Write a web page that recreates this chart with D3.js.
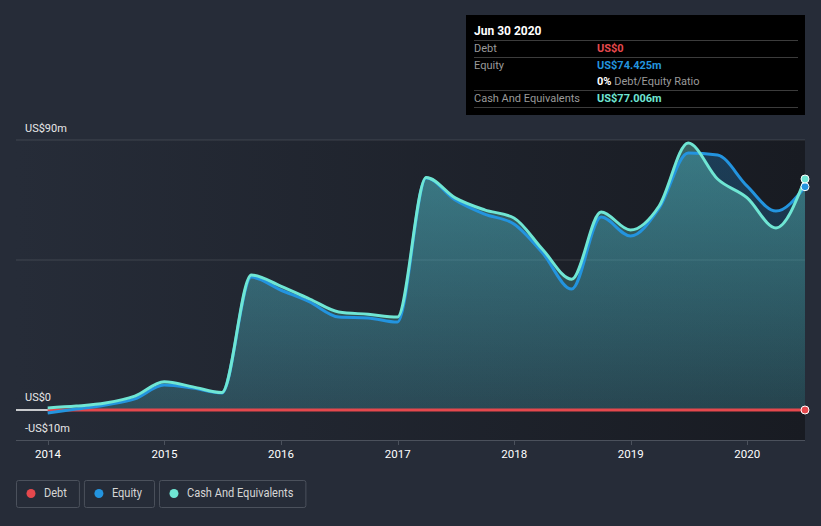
<!DOCTYPE html>
<html><head><meta charset="utf-8">
<script src="https://cdn.jsdelivr.net/npm/d3@7"></script>
<style>
html,body{margin:0;padding:0;background:#262c38;}
svg{display:block;font-family:Roboto,"Noto Sans",sans-serif;}
</style></head>
<body>
<svg id="c" width="821" height="526"></svg>
<script>
const dates = ["2013-12-31","2014-03-31","2014-06-30","2014-09-30","2014-12-31","2015-03-31","2015-06-30","2015-09-30","2015-12-31","2016-03-31","2016-06-30","2016-09-30","2016-12-31","2017-03-31","2017-06-30","2017-09-30","2017-12-31","2018-03-31","2018-06-30","2018-09-30","2018-12-31","2019-03-31","2019-06-30","2019-09-30","2019-12-31","2020-03-31","2020-06-30"];
const cash   = [0.7,1.3,2.3,4.6,9.4,7.7,5.8,45.0,41.3,37.0,32.7,31.9,31.0,77.5,70.7,66.7,64.0,53.5,43.6,66.0,60.0,68.0,89.0,77.0,70.8,60.7,77.006];
const equity = [-1.0,0.3,1.7,3.7,8.3,7.3,5.7,44.3,40.0,36.0,31.0,30.7,29.3,77.3,70.0,65.3,62.0,52.3,40.3,64.3,58.0,67.3,85.7,85.0,74.7,66.3,74.425];
const debt   = [0,0,0,0,0,0,0,0,0,0,0,0,0,0,0,0,0,0,0,0,0,0,0,0,0,0,0];
const yearTicks = [2014,2015,2016,2017,2018,2019,2020];
const yLabels = [{v:90,t:"US$90m"},{v:0,t:"US$0"},{v:-10,t:"-US$10m"}];
const gridVals = [90,50];
const legendItems = [{n:"Debt",c:"#e5484d"},{n:"Equity",c:"#2394df"},{n:"Cash And Equivalents",c:"#6fe6d4"}];

const COL = {debt:"#e5484d", equity:"#2394df", cash:"#6fe6d4"};
const parse = d3.timeParse("%Y-%m-%d");
const dd = dates.map(parse);
const svg = d3.select("#c");
const x = d3.scaleTime().domain([new Date(2014,0,1), new Date(2020,5,30)]).range([48,805]);
const y = d3.scaleLinear().domain([-10,90]).range([440,140]);

const defs = svg.append("defs");
const bgG = defs.append("linearGradient").attr("id","bg").attr("x1",0).attr("x2",1).attr("y1",0).attr("y2",0);
bgG.append("stop").attr("offset","0%").attr("stop-color","#262c38");
bgG.append("stop").attr("offset","100%").attr("stop-color","#181b22");
const gc = defs.append("linearGradient").attr("id","gc").attr("gradientUnits","userSpaceOnUse").attr("x1",0).attr("x2",0).attr("y1",140).attr("y2",410);
gc.append("stop").attr("offset","0%").attr("stop-color",COL.cash).attr("stop-opacity",0.36);
gc.append("stop").attr("offset","100%").attr("stop-color",COL.cash).attr("stop-opacity",0.14);
const ge = defs.append("linearGradient").attr("id","ge").attr("gradientUnits","userSpaceOnUse").attr("x1",0).attr("x2",0).attr("y1",140).attr("y2",410);
ge.append("stop").attr("offset","0%").attr("stop-color",COL.equity).attr("stop-opacity",0.28);
ge.append("stop").attr("offset","100%").attr("stop-color",COL.equity).attr("stop-opacity",0.11);

svg.append("rect").attr("x",16).attr("y",140).attr("width",789).attr("height",300).attr("fill","url(#bg)");

svg.selectAll(".grid").data(gridVals).enter().append("line")
  .attr("x1",16).attr("x2",805).attr("y1",d=>y(d)).attr("y2",d=>y(d))
  .attr("stroke","#ffffff").attr("stroke-opacity",0.13).attr("stroke-width",1);

svg.append("line").attr("x1",16).attr("x2",805).attr("y1",440.5).attr("y2",440.5).attr("stroke","#4b515c");
const xg = svg.append("g").attr("transform","translate(0,440)");
xg.selectAll("line").data(yearTicks).enter().append("line")
  .attr("x1",d=>Math.round(x(new Date(d,0,1)))+0.5).attr("x2",d=>Math.round(x(new Date(d,0,1)))+0.5)
  .attr("y1",0).attr("y2",5).attr("stroke","#4b515c");
xg.selectAll("text").data(yearTicks).enter().append("text")
  .attr("x",d=>x(new Date(d,0,1))).attr("y",18).attr("text-anchor","middle")
  .attr("fill","#ffffff").attr("font-size",11.5).text(d=>d);

svg.append("line").attr("x1",16).attr("x2",805).attr("y1",y(0)).attr("y2",y(0)).attr("stroke","#ffffff").attr("stroke-width",1.5);

svg.selectAll(".yl").data(yLabels).enter().append("text")
  .attr("x",25).attr("y",d=>d.v===90?132:(d.v===0?401:432))
  .attr("fill","#e8e8e8").attr("font-size",11).text(d=>d.t);

const curve = d3.curveMonotoneX;
const area = arr => d3.area().x((d,i)=>x(dd[i])).y0(y(0)).y1(d=>y(d)).curve(curve)(arr);
const line = arr => d3.line().x((d,i)=>x(dd[i])).y(d=>y(d)).curve(curve)(arr);

svg.append("path").attr("d",area(equity)).attr("fill","url(#ge)");
svg.append("path").attr("d",area(cash)).attr("fill","url(#gc)");

svg.append("path").attr("d",line(debt)).attr("fill","none").attr("stroke",COL.debt).attr("stroke-width",3);
svg.append("path").attr("d",line(equity)).attr("fill","none").attr("stroke",COL.equity).attr("stroke-width",3);
svg.append("path").attr("d",line(cash)).attr("fill","none").attr("stroke",COL.cash).attr("stroke-width",3);

const last = dd.length-1;
[[debt,COL.debt],[equity,COL.equity],[cash,COL.cash]].forEach(([arr,c])=>{
  svg.append("circle").attr("cx",x(dd[last])).attr("cy",y(arr[last])).attr("r",4)
    .attr("fill",c).attr("stroke","#ffffff").attr("stroke-width",1);
});

const tt = svg.append("g");
tt.append("rect").attr("x",466).attr("y",15).attr("width",339).attr("height",100).attr("fill","#000000");
tt.append("text").attr("x",474).attr("y",35).attr("fill","#ffffff").attr("font-size",12).attr("font-weight","bold").text("Jun 30 2020");
[40.5,57.5,90.5,107.5].forEach(v=>tt.append("line").attr("x1",474).attr("x2",798).attr("y1",v).attr("y2",v).attr("stroke","#3c3c3c"));
const rows = [
  {l:"Debt",v:"US$0",c:COL.debt,y:52},
  {l:"Equity",v:"US$74.425m",c:COL.equity,y:69},
  {l:"Cash And Equivalents",v:"US$77.006m",c:COL.cash,y:102}
];
rows.forEach(r=>{
  tt.append("text").attr("x",474).attr("y",r.y).attr("fill","#9a9a9a").attr("font-size",11).text(r.l);
  tt.append("text").attr("x",597).attr("y",r.y).attr("fill",r.c).attr("font-size",11).attr("font-weight","bold").text(r.v);
});
const rt = tt.append("text").attr("x",597).attr("y",85).attr("font-size",11);
rt.append("tspan").attr("fill","#ffffff").attr("font-weight","bold").text("0%");
rt.append("tspan").attr("fill","#9a9a9a").text(" Debt/Equity Ratio");

const lg = svg.append("g");
let lx = 16;
legendItems.forEach(it=>{
  const g = lg.append("g");
  const t = g.append("text").attr("x",lx+28).attr("y",497).attr("fill","#d6d6d6").attr("font-size",12).text(it.n);
  const w0 = t.node().getComputedTextLength();
  const w = w0*0.92;
  t.attr("textLength",w).attr("lengthAdjust","spacingAndGlyphs");
  const bw = Math.max(w + 40, 62);
  g.insert("rect","text").attr("x",lx+0.5).attr("y",480.5).attr("width",bw).attr("height",27).attr("rx",2)
    .attr("fill","none").attr("stroke","#4b515c");
  g.append("circle").attr("cx",lx+15).attr("cy",493.5).attr("r",4.5).attr("fill",it.c);
  lx += bw + 5;
});
</script>
</body></html>
